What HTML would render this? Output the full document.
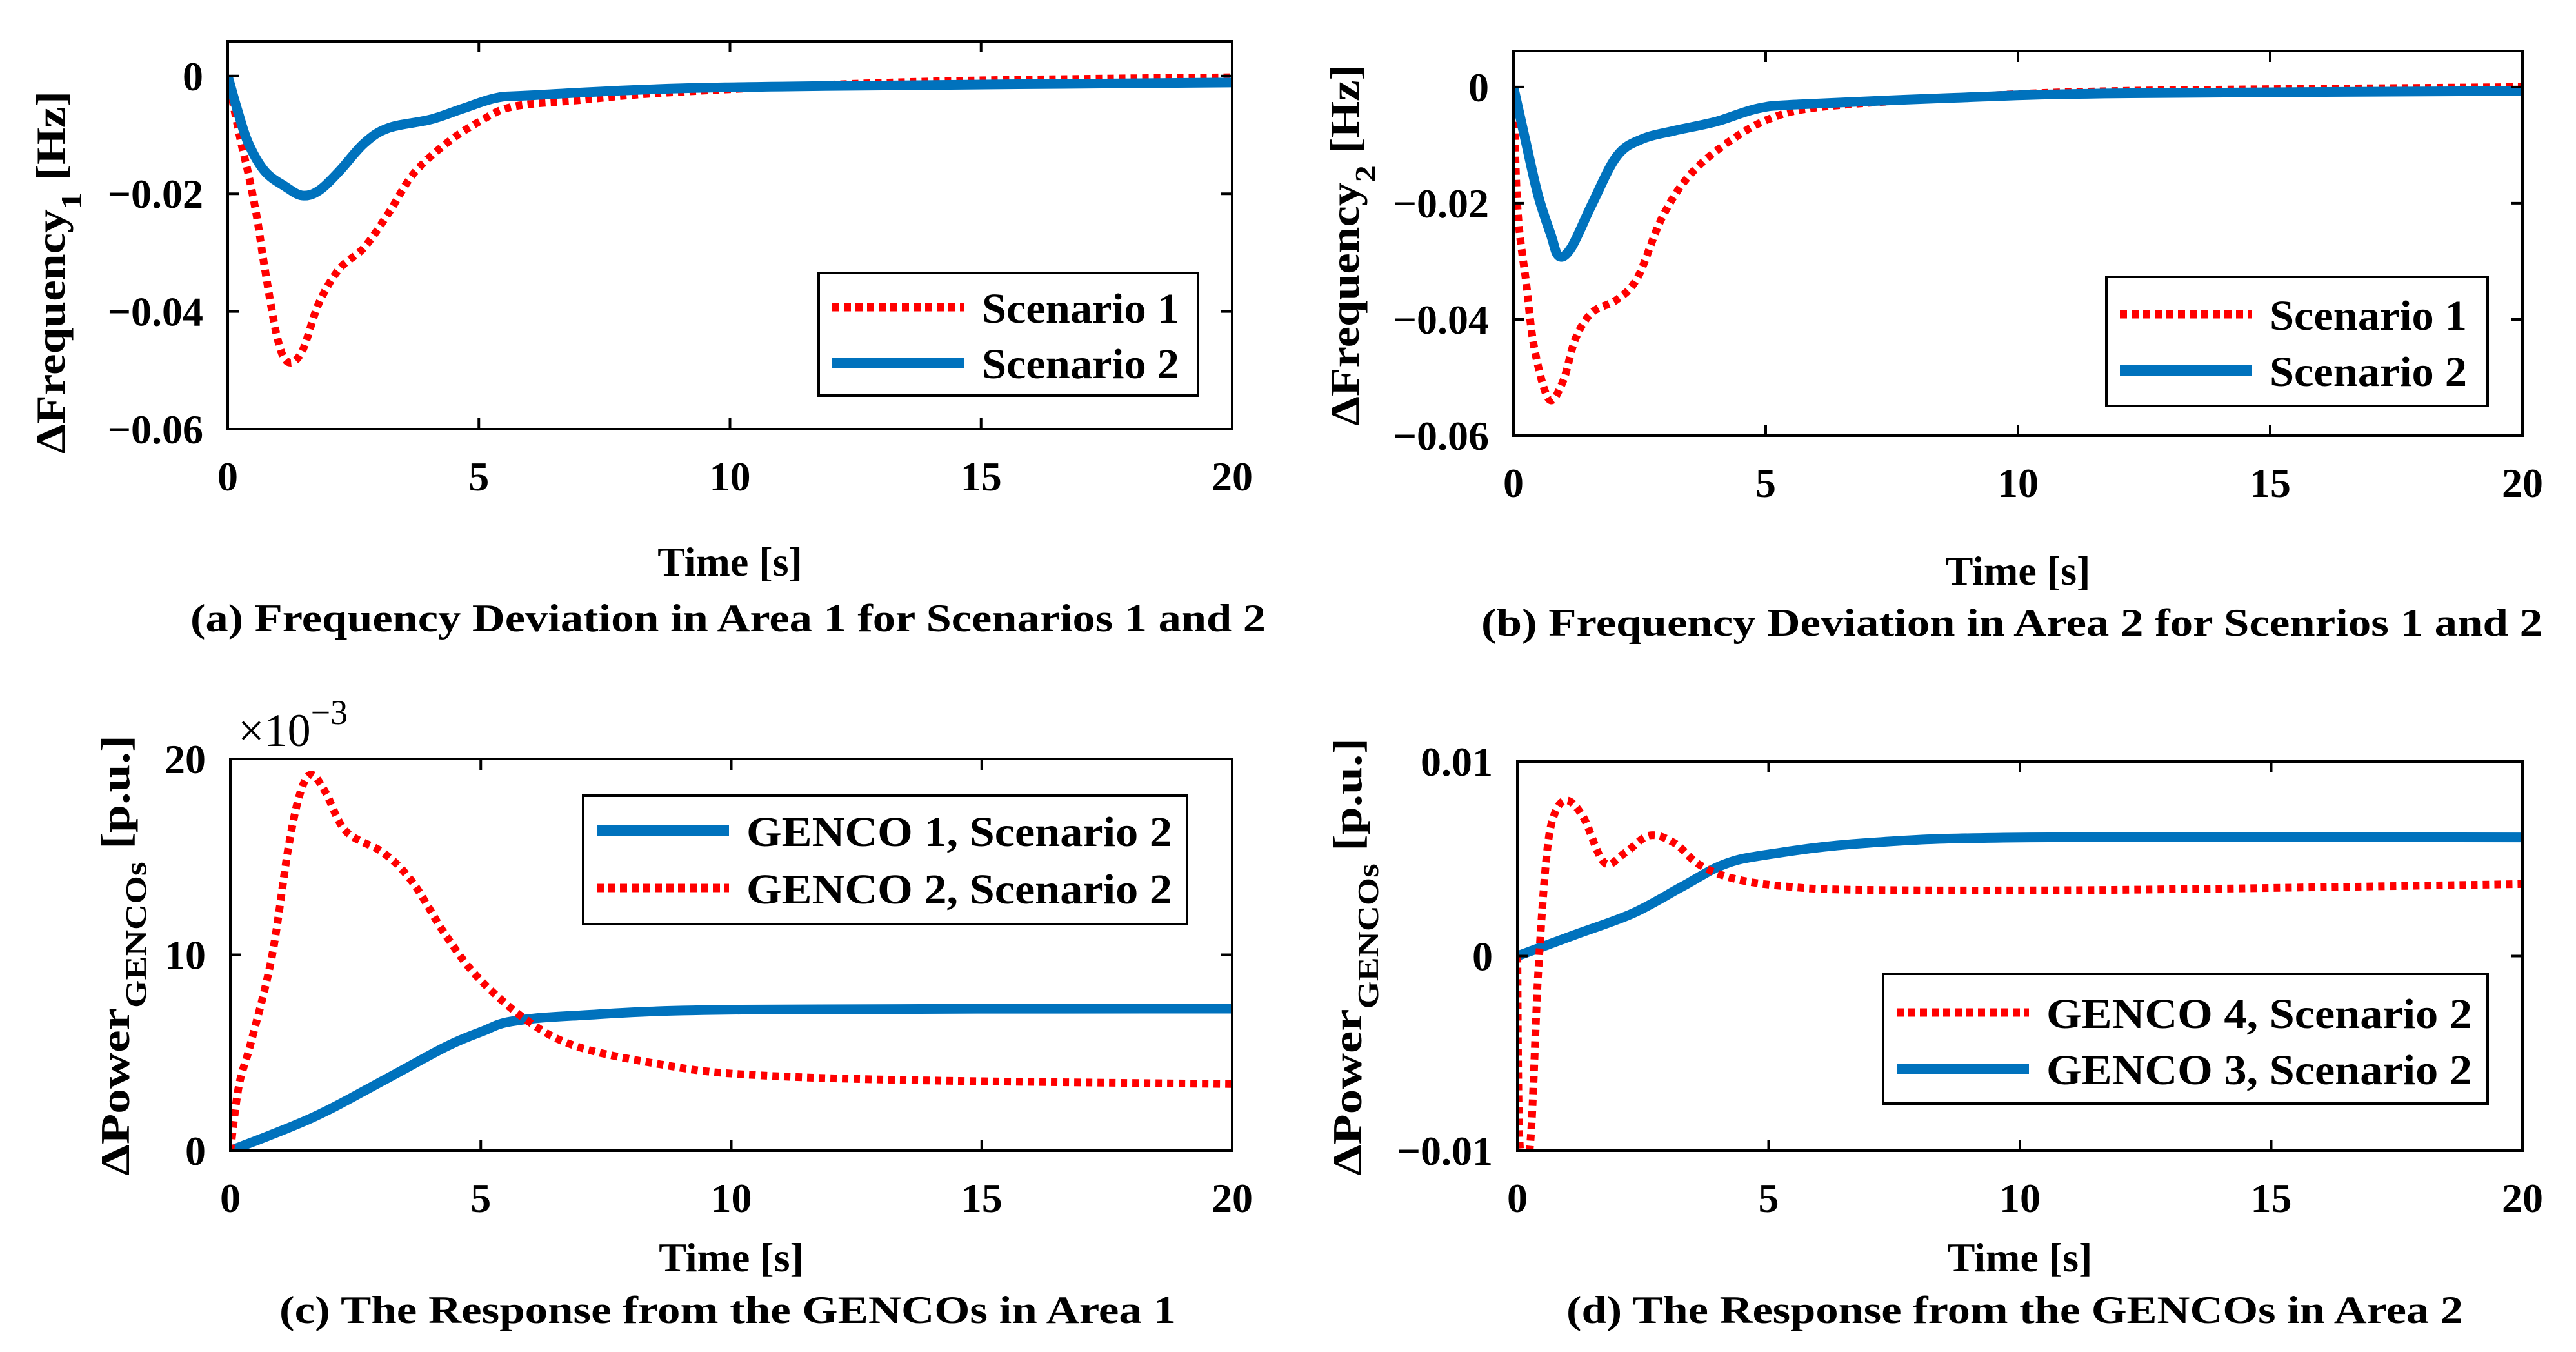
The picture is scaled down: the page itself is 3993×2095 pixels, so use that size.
<!DOCTYPE html>
<html><head><meta charset="utf-8">
<style>
html,body{margin:0;padding:0;background:#fff;}
svg{display:block;}
text{font-family:"Liberation Serif","Times New Roman",serif;font-weight:bold;fill:#000;}
</style></head>
<body>
<svg id="fig" width="3993" height="2095" viewBox="0 0 3993 2095" xmlns="http://www.w3.org/2000/svg"></svg>
<script>
// ---- data (time in s) ----
const aS1t=[0,0.25,0.41,0.58,0.74,0.99,1.2,1.48,1.81,2.22,2.72,3.21,3.7,4.36,5.02,5.68,7,8.6,11.9,15.2,20];
const aS1v=[0,-0.0107,-0.0166,-0.024,-0.0328,-0.0446,-0.0486,-0.0468,-0.0387,-0.0328,-0.0291,-0.0232,-0.0166,-0.0114,-0.0077,-0.0052,-0.0041,-0.0029,-0.0015,-0.0007,-0.0002];
const aS2t=[0,0.2,0.41,0.74,1.15,1.48,1.81,2.22,2.72,3.21,4.03,4.69,5.35,6.0,8.6,11.9,20];
const aS2v=[0,-0.006,-0.0114,-0.0162,-0.0188,-0.0203,-0.0195,-0.0162,-0.0114,-0.0088,-0.0074,-0.0055,-0.0037,-0.0033,-0.0022,-0.0017,-0.0011];
const bS1t=[0,0.08,0.25,0.41,0.7,0.98,1.23,1.56,2.05,2.46,2.95,3.52,4.34,5.16,6.15,8.6,11.9,20];
const bS1v=[0,-0.0209,-0.0336,-0.0448,-0.0537,-0.0507,-0.0433,-0.0388,-0.0366,-0.0328,-0.0224,-0.0149,-0.009,-0.0052,-0.0034,-0.0019,-0.0007,0];
const bS2t=[0,0.25,0.49,0.74,0.9,1.15,1.56,2.05,2.54,3.2,4.0,4.84,5.66,8.6,11.9,20];
const bS2v=[0,-0.0097,-0.0187,-0.0254,-0.0291,-0.0276,-0.0201,-0.0119,-0.009,-0.0075,-0.006,-0.0037,-0.003,-0.0019,-0.0011,-0.0007];
const cG1t=[0,1.65,3.14,4.3,5.04,5.62,6.94,10.2,20];
const cG1v=[0,0.0017,0.0037,0.0053,0.0061,0.0066,0.0069,0.0072,0.00725];
const cG2t=[0,0.17,0.41,0.83,1.16,1.4,1.62,1.9,2.31,3.06,3.64,4.3,4.96,5.95,6.94,8.6,10.2,13.55,20];
const cG2v=[0,0.0033,0.0055,0.0099,0.0155,0.0183,0.0192,0.0183,0.0163,0.0152,0.0137,0.011,0.0088,0.0066,0.0053,0.0044,0.0039,0.0036,0.0034];
const dG3t=[0,1.15,2.3,3.3,4.1,4.94,6.9,10.2,20];
const dG3v=[0,0.0011,0.0022,0.0036,0.0047,0.0052,0.0058,0.0061,0.0061];
const dG4t=[0,0.05,0.25,0.41,0.58,0.74,0.99,1.32,1.73,2.14,2.63,3.13,3.62,4.28,5.27,6.9,11.85,20];
const dG4v=[0,-0.0098,-0.0098,-0.0011,0.0051,0.0073,0.008,0.0071,0.0048,0.0053,0.0062,0.0058,0.0047,0.004,0.0036,0.0034,0.0034,0.0037];
const xTicks=[0,5,10,15,20];
const aYTicks=[0,-0.02,-0.04,-0.06];
const aYLabels=["0","\u22120.02","\u22120.04","\u22120.06"];
const cYTicks=[0,0.01,0.02];
const cYLabels=["0","10","20"];
const dYTicks=[-0.01,0,0.01];
const dYLabels=["\u22120.01","0","0.01"];

const NS="http://www.w3.org/2000/svg";
const svg=document.getElementById('fig');
function mk(tag,attrs,parent){const e=document.createElementNS(NS,tag);for(const k in attrs)e.setAttribute(k,attrs[k]);(parent||svg).appendChild(e);return e;}

function smoothPath(pts){
  let d='M'+pts[0][0].toFixed(1)+','+pts[0][1].toFixed(1);
  for(let i=0;i<pts.length-1;i++){
    const p0=pts[i-1]||pts[i],p1=pts[i],p2=pts[i+1],p3=pts[i+2]||p2;
    const c1x=p1[0]+(p2[0]-p0[0])/6,c1y=p1[1]+(p2[1]-p0[1])/6;
    const c2x=p2[0]-(p3[0]-p1[0])/6,c2y=p2[1]-(p3[1]-p1[1])/6;
    d+='C'+c1x.toFixed(1)+','+c1y.toFixed(1)+' '+c2x.toFixed(1)+','+c2y.toFixed(1)+' '+p2[0].toFixed(1)+','+p2[1].toFixed(1);
  }
  return d;
}

const RED="#ff0000", BLUE="#0072bd";
function panel(p){
  const g=mk('g',{});
  
  
  const sx=t=>p.L+(t-0)/(20-0)*(p.R-p.L);
  const sy=v=>p.B-(v-p.ymin)/(p.ymax-p.ymin)*(p.B-p.T);
  const cid='clip-'+p.id;
  const cp=mk('clipPath',{id:cid},g);mk('rect',{x:p.L,y:p.T,width:p.R-p.L,height:p.B-p.T},cp);
  p.series.forEach(s=>{
    const pts=s.t.map((t,i)=>[sx(t),sy(s.v[i])]);
    const path=mk('path',{d:smoothPath(pts),fill:'none',stroke:s.dotted?RED:BLUE,'stroke-width':s.dotted?12:15,'stroke-dasharray':s.dotted?'10 8':'none','stroke-linejoin':'round','clip-path':'url(#'+cid+')'},g);
    
    
  });
  const box=mk('rect',{x:p.L,y:p.T,width:p.R-p.L,height:p.B-p.T,fill:'none',stroke:'#000','stroke-width':4},g);
  
  
  xTicks.forEach(t=>{
    const x=sx(t);
    mk('line',{x1:x,y1:p.B,x2:x,y2:p.B-17,stroke:'#000','stroke-width':4},g);
    mk('line',{x1:x,y1:p.T,x2:x,y2:p.T+17,stroke:'#000','stroke-width':4},g);
    const tx=mk('text',{x:x,y:p.B+95,'font-size':64,'text-anchor':'middle'},g);tx.textContent=String(t);
    
    
  });
  p.yt.forEach((v,i)=>{
    const y=sy(v);
    mk('line',{x1:p.L,y1:y,x2:p.L+17,y2:y,stroke:'#000','stroke-width':4},g);
    mk('line',{x1:p.R,y1:y,x2:p.R-17,y2:y,stroke:'#000','stroke-width':4},g);
    const tx=mk('text',{x:p.L-38,y:y+22,'font-size':64,'text-anchor':'end'},g);tx.textContent=p.yl[i];
    
    
  });
  const xt=mk('text',{x:(p.L+p.R)/2,y:p.xtY,'font-size':64,'text-anchor':'middle'},g);xt.textContent='Time [s]';
  
  
  const cap=mk('text',{x:p.capX,y:p.capY,'font-size':60,textLength:p.capW,lengthAdjust:'spacingAndGlyphs'},g);cap.textContent=p.cap;
  
  
  const yt=mk('text',{transform:'translate('+p.ytX+','+p.ytB+') rotate(-90)','font-size':64,textLength:p.ytW,lengthAdjust:'spacingAndGlyphs'},g);
  
  
  const t1=mk('tspan',{},yt);t1.textContent=p.ytMain;
  const t2=mk('tspan',{dy:26,'font-size':46},yt);t2.textContent=p.ytSub;
  const t3=mk('tspan',{dy:-26,'font-size':64},yt);t3.textContent='  '+p.ytUnit;
  const lg=mk('g',{},g);
  
  
  mk('rect',{x:p.lg.x,y:p.lg.y,width:p.lg.w,height:p.lg.h,fill:'#fff',stroke:'#000','stroke-width':4},lg);
  p.lg.items.forEach((it,i)=>{
    const ly=p.lg.rows[i];
    const ln=mk('line',{x1:p.lg.x+21,y1:ly,x2:p.lg.x+226,y2:ly,stroke:it.dotted?RED:BLUE,'stroke-width':it.dotted?13:16,'stroke-dasharray':it.dotted?'11 7':'none'},lg);
    
    
    const tx=mk('text',{x:p.lg.x+253,y:ly+24,'font-size':66,textLength:it.w,lengthAdjust:'spacingAndGlyphs'},lg);tx.textContent=it.label;
    
    
  });
  if(p.exp){const e=mk('text',{x:p.L+12,y:p.T-20,'font-size':72},g);e.style.fontWeight='normal';
    
    
    const a=mk('tspan',{},e);a.textContent='\u00d710';const b=mk('tspan',{dy:-34,'font-size':54},e);b.textContent='\u22123';}
}

panel({id:'panel-a',L:353,R:1910,T:64,B:665,ymin:-0.06,ymax:0.0059,yt:aYTicks,yl:aYLabels,
  series:[{name:'scenario-1-line',t:aS1t,v:aS1v,dotted:true},{name:'scenario-2-line',t:aS2t,v:aS2v,dotted:false}],
  xtY:892,cap:'(a) Frequency Deviation in Area 1 for Scenarios 1 and 2',capX:295,capY:978,capW:1667,
  ytX:100,ytB:703,ytW:562,ytMain:'\u0394Frequency',ytSub:'1',ytUnit:'[Hz]',
  lg:{x:1269,y:423,w:588,h:190,rows:[476,562],items:[{label:'Scenario 1',dotted:true,w:306},{label:'Scenario 2',dotted:false,w:306}]}});
panel({id:'panel-b',L:2346,R:3910,T:79,B:675,ymin:-0.06,ymax:0.0062,yt:aYTicks,yl:aYLabels,
  series:[{name:'scenario-1-line',t:bS1t,v:bS1v,dotted:true},{name:'scenario-2-line',t:bS2t,v:bS2v,dotted:false}],
  xtY:906,cap:'(b) Frequency Deviation in Area 2 for Scenrios 1 and 2',capX:2296,capY:985,capW:1645,
  ytX:2106,ytB:660,ytW:560,ytMain:'\u0394Frequency',ytSub:'2',ytUnit:'[Hz]',
  lg:{x:3265,y:429,w:591,h:200,rows:[487,574],items:[{label:'Scenario 1',dotted:true,w:306},{label:'Scenario 2',dotted:false,w:306}]}});
panel({id:'panel-c',L:357,R:1910,T:1176,B:1783,ymin:0,ymax:0.02,yt:cYTicks,yl:cYLabels,exp:true,
  series:[{name:'genco-1-line',t:cG1t,v:cG1v,dotted:false},{name:'genco-2-line',t:cG2t,v:cG2v,dotted:true}],
  xtY:1970,cap:'(c) The Response from the GENCOs in Area 1',capX:433,capY:2050,capW:1390,
  ytX:200,ytB:1822,ytW:683,ytMain:'\u0394Power',ytSub:'GENCOs',ytUnit:'[p.u.]',
  lg:{x:904,y:1233,w:936,h:199,rows:[1287,1376],items:[{label:'GENCO 1, Scenario 2',dotted:false,w:660},{label:'GENCO 2, Scenario 2',dotted:true,w:660}]}});
panel({id:'panel-d',L:2352,R:3910,T:1180,B:1783,ymin:-0.01,ymax:0.01,yt:dYTicks,yl:dYLabels,
  series:[{name:'genco-3-line',t:dG3t,v:dG3v,dotted:false},{name:'genco-4-line',t:dG4t,v:dG4v,dotted:true}],
  xtY:1970,cap:'(d) The Response from the GENCOs in Area 2',capX:2428,capY:2050,capW:1390,
  ytX:2110,ytB:1822,ytW:679,ytMain:'\u0394Power',ytSub:'GENCOs',ytUnit:'[p.u.]',
  lg:{x:2919,y:1509,w:937,h:201,rows:[1569,1656],items:[{label:'GENCO 4, Scenario 2',dotted:true,w:660},{label:'GENCO 3, Scenario 2',dotted:false,w:660}]}});
</script>
</body></html>
